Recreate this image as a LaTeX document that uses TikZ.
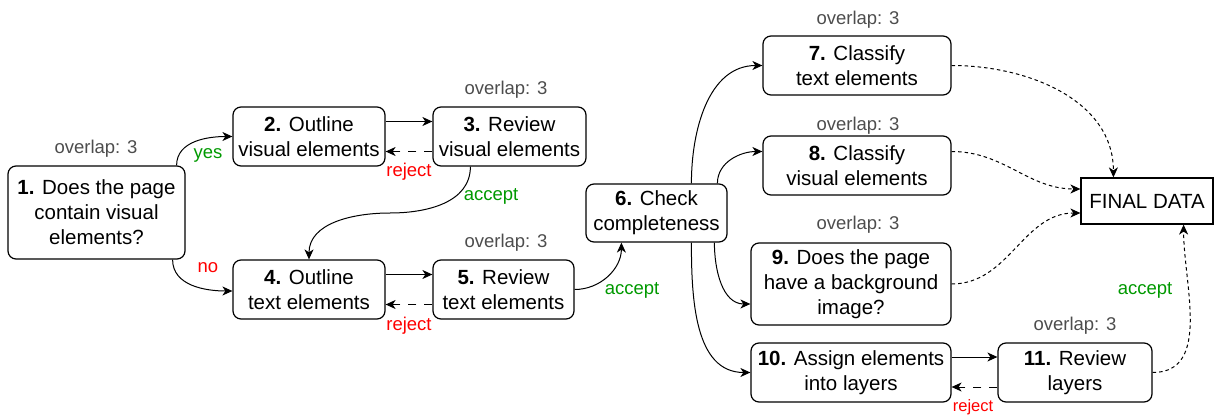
\documentclass[tikz,border=0pt]{standalone}
\usepackage{fontspec}
\setmainfont{Liberation Sans}
\usetikzlibrary{arrows.meta,calc}
\definecolor{grn}{HTML}{009900}
\definecolor{rd}{HTML}{FF0000}
\definecolor{gry}{HTML}{4D4D4D}
\begin{document}
\begin{tikzpicture}[x=1pt,y=-1pt,
  proc/.style={draw, rounded corners=8pt, line width=1.2pt, align=center, inner sep=0pt,
    font=\fontsize{20.5}{25}\selectfont},
  fbox/.style={draw, line width=1.2pt, align=center, inner sep=0pt,
    font=\fontsize{20.5}{25}\selectfont},
  ovl/.style={text=gry, font=\fontsize{18.5}{22}\selectfont},
  yeslab/.style={text=grn, font=\fontsize{18.5}{22}\selectfont},
  nolab/.style={text=rd, font=\fontsize{18.5}{22}\selectfont},
  conn/.style={line width=1pt, -{Stealth[length=10pt,width=9pt,inset=3pt]}},
  back/.style={conn, dash pattern=on 8pt off 8pt},
  fin/.style={conn, dash pattern=on 3.5pt off 3pt}]
\useasboundingbox (0,0) rectangle (1216,417);

% nodes
\node[proc, minimum width=177pt, minimum height=93pt] (n1) at (96.5,212.5) {\textbf{1.} Does the page\\contain visual\\elements?};
\node[proc, minimum width=152pt, minimum height=59pt] (n2) at (309,136.5) {\textbf{2.} Outline\\visual elements};
\node[proc, minimum width=153pt, minimum height=59pt] (n3) at (509.5,136.5) {\textbf{3.} Review\\visual elements};
\node[proc, minimum width=152pt, minimum height=59pt] (n4) at (309,289.5) {\textbf{4.} Outline\\text elements};
\node[proc, minimum width=141pt, minimum height=59pt] (n5) at (503.5,289.5) {\textbf{5.} Review\\text elements};
\node[proc, minimum width=141pt, minimum height=58pt] (n6) at (656.5,213) {\textbf{6.} Check\\completeness};
\node[proc, minimum width=188pt, minimum height=59pt] (n7) at (857,65.5) {\textbf{7.} Classify\\text elements};
\node[proc, minimum width=188pt, minimum height=59pt] (n8) at (857,165.5) {\textbf{8.} Classify\\visual elements};
\node[proc, minimum width=200pt, minimum height=82pt] (n9) at (851,284) {\textbf{9.} Does the page\\have a background\\image?};
\node[proc, minimum width=200pt, minimum height=59pt] (n10) at (851,372.5) {\textbf{10.} Assign elements\\into layers};
\node[proc, minimum width=154pt, minimum height=59pt] (n11) at (1075,372.5) {\textbf{11.} Review\\layers};
\node[fbox, minimum width=132pt, minimum height=46pt] (fd) at (1147,201) {FINAL DATA};

% overlap labels
\node[ovl] (o1) at (96,149) {overlap: 3};
\node[ovl] (o3) at (506,90) {overlap: 3};
\node[ovl] (o5) at (506,243) {overlap: 3};
\node[ovl] (o7) at (858,20) {overlap: 3};
\node[ovl] (o8) at (858,126) {overlap: 3};
\node[ovl] (o9) at (858,225) {overlap: 3};
\node[ovl] (o11) at (1075,326) {overlap: 3};

% connectors
\draw[conn] ($(n1.north east)+(-9,0)$) to[out=90,in=180] (n2.west);
\node[yeslab] (lyes) at (208,155) {yes};
\draw[conn] ($(n1.south east)+(-13,0)$) to[out=-90,in=180] ($(n4.west)+(0,1.5)$);
\node[nolab] (lno) at (208,268) {no};

\draw[conn] ($(n2.east)+(0,-15)$) -- ($(n3.west)+(0,-15)$);
\draw[back] ($(n3.west)+(0,15)$) -- ($(n2.east)+(0,15)$);
\node[nolab] (lr1) at (409,172) {reject};

\coordinate (c34) at (390,213);
\draw[conn] ($(n3.south west)+(38,0)$) to[out=-90,in=0] (c34) to[out=180,in=90] (n4.north);
\node[yeslab] (la1) at (491,196) {accept};

\draw[conn] ($(n4.east)+(0,-15)$) -- ($(n5.west)+(0,-15)$);
\draw[back] ($(n5.west)+(0,15)$) -- ($(n4.east)+(0,15)$);
\node[nolab] (lr2) at (409,326) {reject};

\draw[conn] (n5.east) to[out=0,in=-90] ($(n6.south west)+(36,0)$);
\node[yeslab] (la2) at (632,290) {accept};

\draw[conn] ($(n6.north west)+(106,0)$) to[out=90,in=180] (n7.west);
\draw[conn] ($(n6.north west)+(132,0)$) to[out=90,in=180] ($(n8.west)+(0,-14)$);
\draw[conn] ($(n6.south west)+(129,0)$) to[out=-90,in=180] ($(n9.west)+(0,20)$);
\draw[conn] ($(n6.south west)+(106,0)$) to[out=-90,in=180] (n10.west);

\draw[fin] (n7.east) to[out=0,in=90] ($(fd.north west)+(33,0)$);
\draw[fin] ($(n8.east)+(0,-14)$) to[out=0,in=180] ($(fd.west)+(0,-12)$);
\draw[fin] (n9.east) to[out=0,in=180] ($(fd.west)+(0,12)$);

\draw[conn] ($(n10.east)+(0,-15.5)$) -- ($(n11.west)+(0,-15.5)$);
\draw[back] ($(n11.west)+(0,14.5)$) -- ($(n10.east)+(0,14.5)$);
\node[nolab, font=\fontsize{16.5}{20}\selectfont] (lr3) at (973,407) {reject};

\draw[fin] (n11.east) to[out=0,in=-90] ($(fd.south east)+(-30,0)$);
\node[yeslab] (la3) at (1145,290) {accept};
\end{tikzpicture}
\end{document}
